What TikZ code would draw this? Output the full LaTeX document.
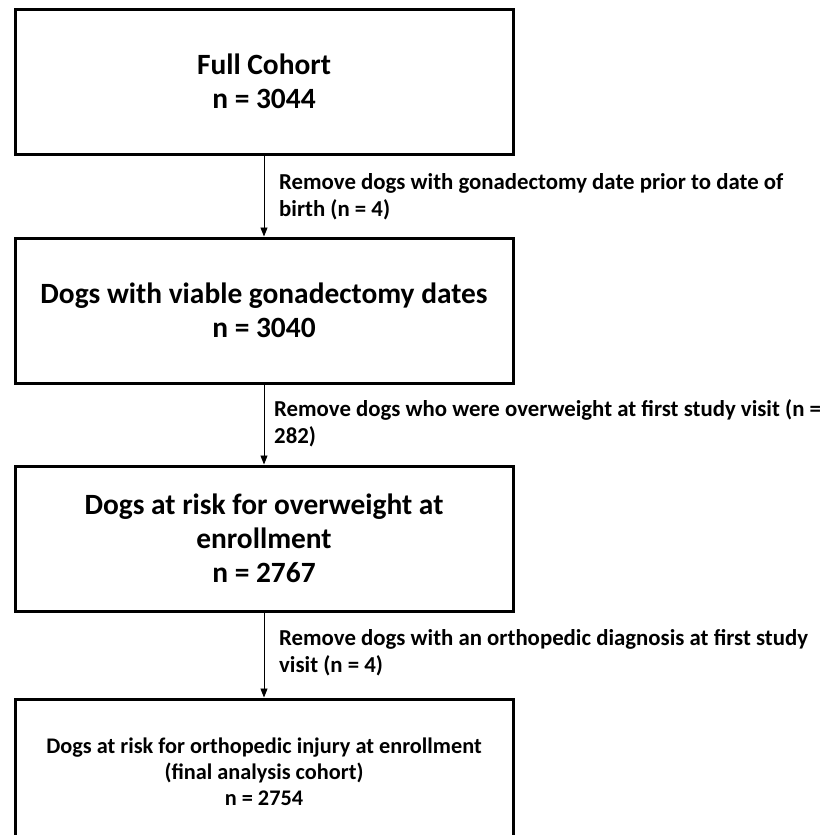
\documentclass[tikz,border=0pt]{standalone}
\usepackage{fontspec}
\setmainfont{Carlito}
\usetikzlibrary{arrows.meta}
\begin{document}
\begin{tikzpicture}[x=1pt,y=1pt,
  stagebox/.style={draw=black, line width=3pt, minimum width=498pt, minimum height=145pt,
    inner sep=0pt, align=center, font=\fontsize{29.4}{34}\selectfont\bfseries},
  smallbox/.style={stagebox, font=\fontsize{22.3}{26}\selectfont\bfseries},
  steplabel/.style={anchor=base west, align=left, inner sep=0pt,
    font=\fontsize{22.8}{27}\selectfont\bfseries},
  flow/.style={line width=0.9pt, -{Triangle[length=9pt,width=7pt]}}]
\useasboundingbox (0,0) rectangle (823,-835);
\clip (0,0) rectangle (823,-835);
\node[stagebox] (b1) at (264,-81.5) {Full Cohort\\n = 3044};
\node[stagebox] (b2) at (264,-310.5) {Dogs with viable gonadectomy dates\\n = 3040};
\node[stagebox] (b3) at (264,-538.5) {Dogs at risk for overweight at\\enrollment\\n = 2767};
\node[smallbox] (b4) at (264,-771.5) {Dogs at risk for orthopedic injury at enrollment\\(final analysis cohort)\\n = 2754};
\draw[flow] (b1) -- (b2);
\draw[flow] (b2) -- (b3);
\draw[flow] (b3) -- (b4);
\node[steplabel] (l1) at (279,-216.5) {Remove dogs with gonadectomy date prior to date of\\birth (n = 4)};
\node[steplabel] (l2) at (274,-443.5) {Remove dogs who were overweight at first study visit (n =\\282)};
\node[steplabel] (l3) at (279,-672.5) {Remove dogs with an orthopedic diagnosis at first study\\visit (n = 4)};
\end{tikzpicture}
\end{document}
